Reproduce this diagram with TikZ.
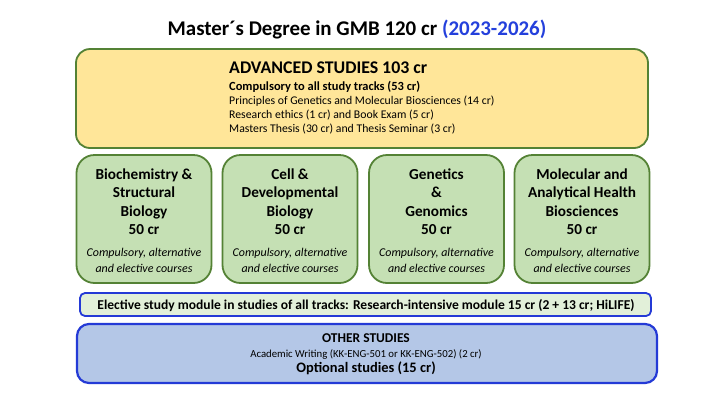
\documentclass[tikz,border=0pt]{standalone}
\usepackage{fontspec}
\setmainfont{Carlito}
\definecolor{yelfill}{RGB}{255,230,153}
\definecolor{dgreen}{RGB}{84,130,53}
\definecolor{grfill}{RGB}{197,224,180}
\definecolor{pgfill}{RGB}{226,240,217}
\definecolor{bluebd}{RGB}{36,58,214}
\definecolor{blfill}{RGB}{180,199,231}
\definecolor{yearblue}{RGB}{36,64,220}
\newcommand{\fs}[1]{\fontsize{#1}{#1}\selectfont}
\tikzset{
  box/.style={inner sep=0pt, outer sep=0pt},
  advbox/.style={box, draw=dgreen, fill=yelfill, line width=1.8bp, rounded corners=14bp, minimum width=572bp, minimum height=99bp},
  trackbox/.style={box, draw=dgreen, fill=grfill, line width=1.8bp, rounded corners=18bp, minimum width=135bp, minimum height=128bp},
  elecbar/.style={box, draw=bluebd, fill=pgfill, line width=1.8bp, rounded corners=5bp, minimum width=571bp, minimum height=23bp},
  otherbox/.style={box, draw=bluebd, fill=blfill, line width=2.2bp, rounded corners=12bp, minimum width=580bp, minimum height=59bp},
  txt/.style={inner sep=0pt, anchor=base},
  ltxt/.style={inner sep=0pt, anchor=base west},
  trk/.style={txt, font=\fs{15.3}\bfseries},
  trki/.style={txt, font=\fs{12}\itshape},
}
\begin{document}
\begin{tikzpicture}[x=1bp,y=-1bp]
\useasboundingbox[fill=white] (0,0) rectangle (720,405);
% title
\node[txt, font=\fs{21}\bfseries] (title) at (357,35) {Master´s Degree in GMB 120 cr \textcolor{yearblue}{(2023-2026)}};
% advanced studies
\node[advbox] (adv) at (362,98.5) {};
\node[ltxt, font=\fs{17.9}\bfseries] (advt) at (229,73) {ADVANCED STUDIES 103 cr};
\node[ltxt, font=\fs{12.5}\bfseries] (comp) at (229,90) {Compulsory to all study tracks (53 cr)};
\node[ltxt, font=\fs{11.8}] (l1) at (229,104) {Principles of Genetics and Molecular Biosciences (14 cr)};
\node[ltxt, font=\fs{11.8}] (l2) at (229,118) {Research ethics (1 cr) and Book Exam (5 cr)};
\node[ltxt, font=\fs{11.8}] (l3) at (229,132) {Masters Thesis (30 cr) and Thesis Seminar (3 cr)};
% tracks
\foreach \n/\cx/\a/\b/\c in {t1/144/Biochemistry \&/Structural/Biology,
                              t2/290/Cell \&/Developmental/Biology,
                              t3/436.5/Genetics/\&/Genomics,
                              t4/582/Molecular and/Analytical Health/Biosciences}{
  \node[trackbox] (\n) at (\cx,219) {};
  \node[trk] (\n a) at (\cx,179) {\a};
  \node[trk] (\n b) at (\cx,197.5) {\b};
  \node[trk] (\n c) at (\cx,216) {\c};
  \node[trk] (\n d) at (\cx,234) {50 cr};
  \node[trki] (\n e) at (\cx,256) {Compulsory, alternative};
  \node[trki] (\n f) at (\cx,272) {and elective courses};
}
% elective bar
\node[elecbar] (elec) at (365.5,304.5) {};
\node[txt, font=\fs{13.6}\bfseries] (elect) at (366,309) {Elective study module in studies of all tracks: Research-intensive module 15 cr (2 + 13 cr; HiLIFE)};
% other studies
\node[otherbox] (oth) at (367,353.5) {};
\node[txt, font=\fs{13.5}\bfseries] (otht) at (366,342) {OTHER STUDIES};
\node[txt, font=\fs{10.8}] (aw) at (366,357) {Academic Writing (KK-ENG-501 or KK-ENG-502) (2 cr)};
\node[txt, font=\fs{14.5}\bfseries] (opt) at (366,372.5) {Optional studies (15 cr)};
\end{tikzpicture}
\end{document}
